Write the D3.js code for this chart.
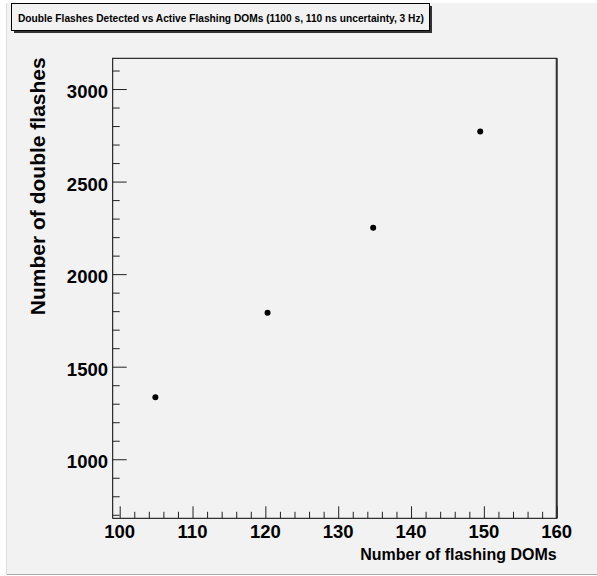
<!DOCTYPE html>
<html>
<head>
<meta charset="utf-8">
<script src="https://cdn.jsdelivr.net/npm/d3@7"></script>
<style>
  html, body { margin: 0; padding: 0; background: #ffffff; }
  svg { display: block; }
  text { font-family: "Liberation Sans", Arial, Helvetica, sans-serif; font-weight: bold; fill: #000; }
</style>
</head>
<body>
<svg id="chart" width="597" height="576"></svg>
<script>
// ---- data ----
const flashingDOMs = [104.9, 120.3, 134.8, 149.5];
const doubleFlashes = [1335, 1792, 2251, 2770];
const xTickValues = [100, 110, 120, 130, 140, 150, 160];
const yTickValues = [1000, 1500, 2000, 2500, 3000];
const xMinorValues = d3.range(100, 161, 2);
const yMinorValues = d3.range(700, 3101, 100);
const titleText = "Double Flashes Detected vs Active Flashing DOMs (1100 s, 110 ns uncertainty, 3 Hz)";
const xTitle = "Number of flashing DOMs";
const yTitle = "Number of double flashes";

// ---- layout ----
const frame = { left: 112.7, right: 556.7, top: 58.3, bottom: 518.3 };
const svg = d3.select("#chart");

// canvas pad
svg.append("rect").attr("x", 6).attr("y", 3).attr("width", 591).attr("height", 571).attr("fill", "#f2f2f2");
svg.append("line").attr("x1", 6).attr("x2", 597).attr("y1", 574.5).attr("y2", 574.5).attr("stroke", "#a8a8a8").attr("stroke-width", 1.2);
svg.append("line").attr("x1", 6.5).attr("x2", 6.5).attr("y1", 3).attr("y2", 575).attr("stroke", "#dedede").attr("stroke-width", 1);

const x = d3.scaleLinear().domain([99.04, 160]).range([frame.left, frame.right]);
const y = d3.scaleLinear().domain([681, 3166]).range([frame.bottom, frame.top]);

// frame
svg.append("rect")
  .attr("x", frame.left).attr("y", frame.top)
  .attr("width", frame.right - frame.left).attr("height", frame.bottom - frame.top)
  .attr("fill", "none").attr("stroke", "#000").attr("stroke-width", 1);
svg.append("line").attr("x1", frame.right).attr("x2", frame.right).attr("y1", frame.top).attr("y2", frame.bottom)
  .attr("stroke", "#333").attr("stroke-width", 2);

// x axis ticks (inward)
const xAxisMajor = d3.axisTop(x).tickValues(xTickValues).tickSize(12).tickFormat("");
const gx = svg.append("g").attr("transform", `translate(0,${frame.bottom})`).call(xAxisMajor);
gx.select(".domain").remove();
const xAxisMinor = d3.axisTop(x).tickValues(xMinorValues.filter(v => !xTickValues.includes(v))).tickSize(6.5).tickFormat("");
const gxm = svg.append("g").attr("transform", `translate(0,${frame.bottom})`).call(xAxisMinor);
gxm.select(".domain").remove();
[gx, gxm].forEach(g => g.selectAll("line").attr("stroke", "#222").attr("stroke-width", 1));

// x tick labels
svg.append("g").selectAll("text").data(xTickValues).join("text")
  .attr("x", d => x(d)).attr("y", 538)
  .attr("text-anchor", "middle").attr("font-size", 18.5).text(d => d);

// y axis ticks (inward)
const yAxisMajor = d3.axisRight(y).tickValues(yTickValues).tickSize(14).tickFormat("");
const gy = svg.append("g").attr("transform", `translate(${frame.left},0)`).call(yAxisMajor);
gy.select(".domain").remove();
const yAxisMinor = d3.axisRight(y).tickValues(yMinorValues.filter(v => !yTickValues.includes(v))).tickSize(7).tickFormat("");
const gym = svg.append("g").attr("transform", `translate(${frame.left},0)`).call(yAxisMinor);
gym.select(".domain").remove();
[gy, gym].forEach(g => g.selectAll("line").attr("stroke", "#222").attr("stroke-width", 1));

// y tick labels
svg.append("g").selectAll("text").data(yTickValues).join("text")
  .attr("x", 108).attr("y", d => y(d) + 9)
  .attr("text-anchor", "end").attr("font-size", 18.5).text(d => d);

// axis titles
svg.append("text").attr("x", frame.right).attr("y", 560)
  .attr("text-anchor", "end").attr("font-size", 16).text(xTitle);
svg.append("text").attr("transform", `translate(45,${frame.top - 1}) rotate(-90)`)
  .attr("text-anchor", "end").attr("font-size", 21).text(yTitle);

// points
svg.append("g").selectAll("circle").data(flashingDOMs.map((d, i) => [d, doubleFlashes[i]])).join("circle")
  .attr("cx", d => x(d[0])).attr("cy", d => y(d[1])).attr("r", 3).attr("fill", "#000");

// title box with shadow
svg.append("rect").attr("x", 14).attr("y", 6).attr("width", 418).attr("height", 27).attr("fill", "#333");
svg.append("rect").attr("x", 11.5).attr("y", 3.5).attr("width", 418).attr("height", 27)
  .attr("fill", "#f2f2f2").attr("stroke", "#000").attr("stroke-width", 1);
svg.append("text").attr("x", 221).attr("y", 21.5).attr("text-anchor", "middle")
  .attr("font-size", 10.2).text(titleText);
</script>
</body>
</html>
